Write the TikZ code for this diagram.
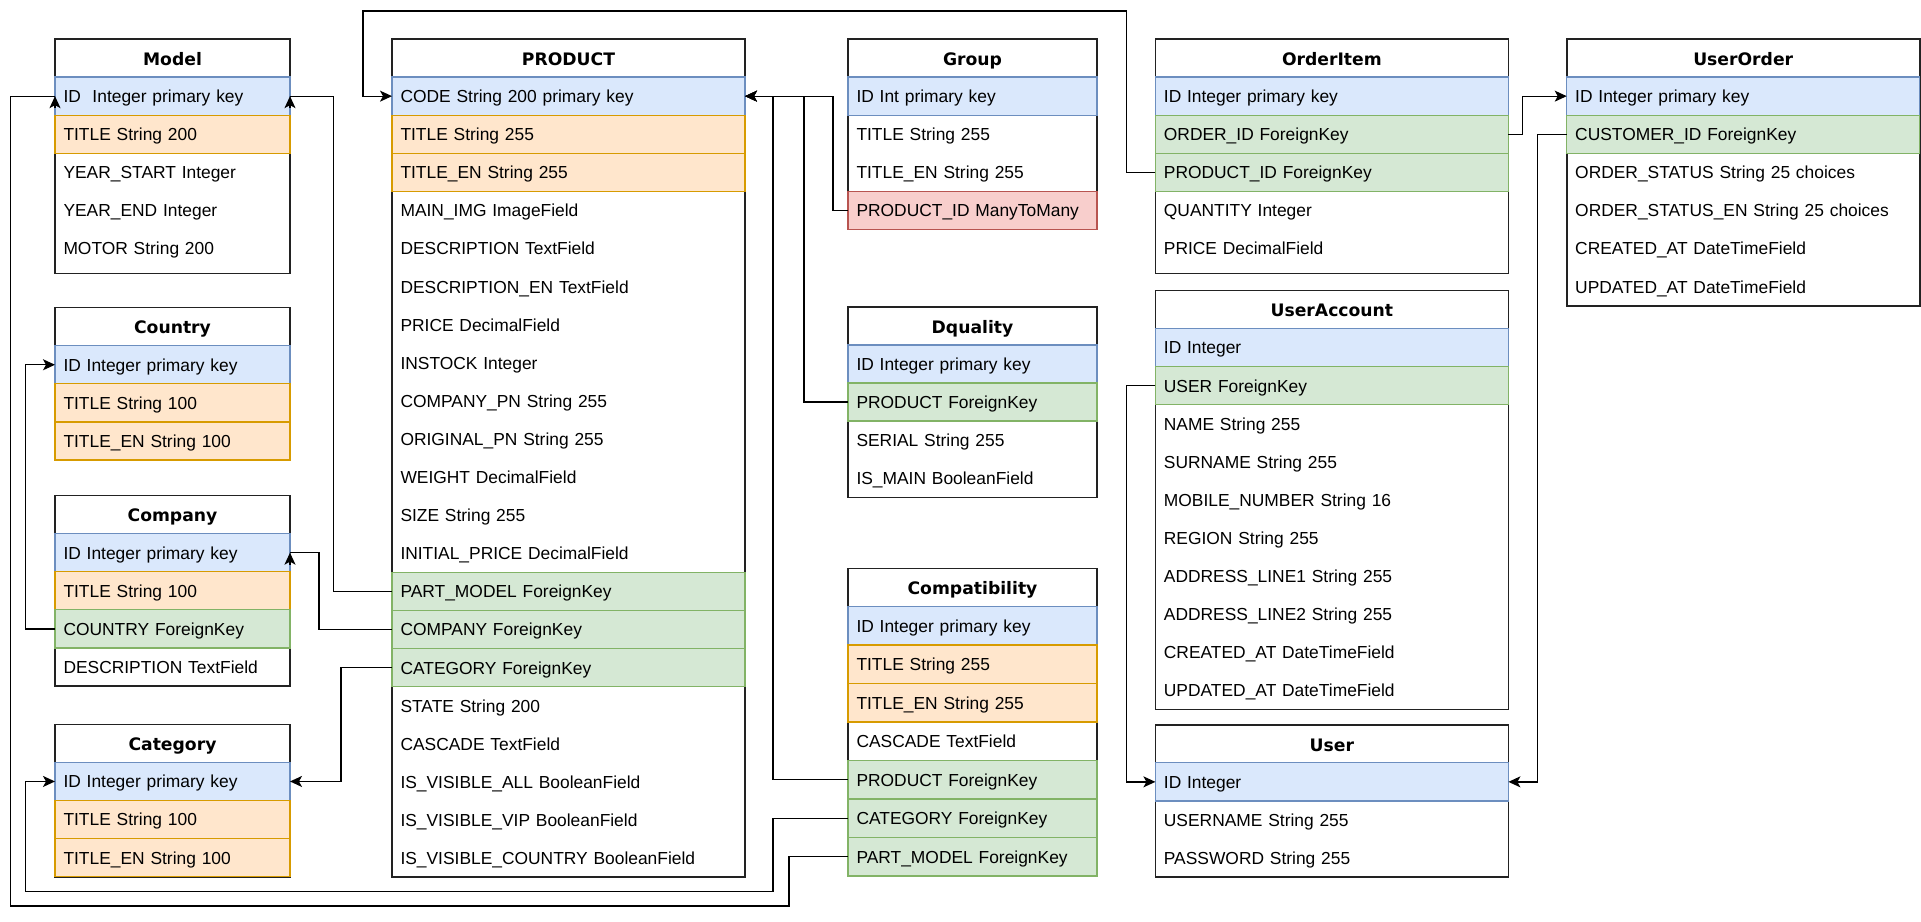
\documentclass[tikz,border=0pt]{standalone}
\usepackage{fontspec}
\setmainfont{Liberation Sans}
\newfontfamily\headfont{DejaVu Sans}
\usetikzlibrary{arrows.meta,positioning,backgrounds}
\definecolor{frameline}{HTML}{222222}
\definecolor{pkfill}{HTML}{DAE8FC}
\definecolor{pkline}{HTML}{6C8EBF}
\definecolor{fkfill}{HTML}{D5E8D4}
\definecolor{fkline}{HTML}{82B366}
\definecolor{txfill}{HTML}{FFE6CC}
\definecolor{txline}{HTML}{D79B00}
\definecolor{mtmfill}{HTML}{F8CECC}
\definecolor{mtmline}{HTML}{B85450}

\begin{document}
\begin{tikzpicture}[
  x=1pt, y=-1pt,
  tblhead/.style={
    draw=frameline,
    line width=1.6pt,
    fill=white,
    outer sep=0pt,
    inner xsep=8.5pt,
    minimum height=38.1pt,
    align=center,
    text height=14.5pt,
    text depth=0pt,
    font=\headfont\bfseries\fontsize{17.2}{20}\selectfont
  },
  fld/.style={
    outer sep=0pt,
    inner xsep=8.5pt,
    minimum height=38.1pt,
    align=left,
    text height=12.8pt,
    text depth=0pt,
    font=\fontsize{17.4}{20}\selectfont
  },
  pk/.style={fld, draw=pkline, fill=pkfill, line width=1.3pt},
  fk/.style={fld, draw=fkline, fill=fkfill, line width=1.3pt},
  txt/.style={fld, draw=txline, fill=txfill, line width=1.3pt},
  mtm/.style={fld, draw=mtmline, fill=mtmfill, line width=1.3pt},
  colA/.style={text width=218pt},
  colP/.style={text width=336pt},
  colG/.style={text width=232pt},
  tblframe/.style={draw=frameline, line width=1.6pt},
  link/.style={draw=black, line width=1.3pt},
  fkarrow/.style={link, -{Stealth[length=12pt, width=11pt, inset=3pt]}}
]
\path[use as bounding box] (0,0) rectangle (1921,921);

% Model
\node[tblhead, colA, anchor=north west] (model) at (55,39) {Model};
\node[pk, colA, below=0pt of model] (model-id) {ID\ \ Integer primary key};
\node[txt, colA, below=0pt of model-id] (model-title) {TITLE String 200};
\node[fld, colA, below=0pt of model-title] (model-ys) {YEAR\_START Integer};
\node[fld, colA, below=0pt of model-ys] (model-ye) {YEAR\_END Integer};
\node[fld, colA, below=0pt of model-ye] (model-motor) {MOTOR String 200};

% Country
\node[tblhead, colA, below=40pt of model-motor] (country) {Country};
\node[pk, colA, below=0pt of country] (country-id) {ID Integer primary key};
\node[txt, colA, below=0pt of country-id] (country-title) {TITLE String 100};
\node[txt, colA, below=0pt of country-title] (country-titleen) {TITLE\_EN String 100};

% Company
\node[tblhead, colA, below=35.5pt of country-titleen] (comp) {Company};
\node[pk, colA, below=0pt of comp] (comp-id) {ID Integer primary key};
\node[txt, colA, below=0pt of comp-id] (comp-title) {TITLE String 100};
\node[fk, colA, below=0pt of comp-title] (comp-country) {COUNTRY ForeignKey};
\node[fld, colA, below=0pt of comp-country] (comp-desc) {DESCRIPTION TextField};

% Category
\node[tblhead, colA, below=38.3pt of comp-desc] (cat) {Category};
\node[pk, colA, below=0pt of cat] (cat-id) {ID Integer primary key};
\node[txt, colA, below=0pt of cat-id] (cat-title) {TITLE String 100};
\node[txt, colA, below=0pt of cat-title] (cat-titleen) {TITLE\_EN String 100};

% PRODUCT
\node[tblhead, colP, right=102pt of model] (prod) {PRODUCT};
\node[pk, colP, below=0pt of prod] (prod-code) {CODE String 200 primary key};
\node[txt, colP, below=0pt of prod-code] (prod-title) {TITLE String 255};
\node[txt, colP, below=0pt of prod-title] (prod-titleen) {TITLE\_EN String 255};
\node[fld, colP, below=0pt of prod-titleen] (prod-img) {MAIN\_IMG ImageField};
\node[fld, colP, below=0pt of prod-img] (prod-desc) {DESCRIPTION TextField};
\node[fld, colP, below=0pt of prod-desc] (prod-descen) {DESCRIPTION\_EN TextField};
\node[fld, colP, below=0pt of prod-descen] (prod-price) {PRICE DecimalField};
\node[fld, colP, below=0pt of prod-price] (prod-stock) {INSTOCK Integer};
\node[fld, colP, below=0pt of prod-stock] (prod-cpn) {COMPANY\_PN String 255};
\node[fld, colP, below=0pt of prod-cpn] (prod-opn) {ORIGINAL\_PN String 255};
\node[fld, colP, below=0pt of prod-opn] (prod-weight) {WEIGHT DecimalField};
\node[fld, colP, below=0pt of prod-weight] (prod-size) {SIZE String 255};
\node[fld, colP, below=0pt of prod-size] (prod-iprice) {INITIAL\_PRICE DecimalField};
\node[fk, colP, below=0pt of prod-iprice] (prod-part) {PART\_MODEL ForeignKey};
\node[fk, colP, below=0pt of prod-part] (prod-comp) {COMPANY ForeignKey};
\node[fk, colP, below=0pt of prod-comp] (prod-cat) {CATEGORY ForeignKey};
\node[fld, colP, below=0pt of prod-cat] (prod-state) {STATE String 200};
\node[fld, colP, below=0pt of prod-state] (prod-cascade) {CASCADE TextField};
\node[fld, colP, below=0pt of prod-cascade] (prod-visall) {IS\_VISIBLE\_ALL BooleanField};
\node[fld, colP, below=0pt of prod-visall] (prod-visvip) {IS\_VISIBLE\_VIP BooleanField};
\node[fld, colP, below=0pt of prod-visvip] (prod-viscountry) {IS\_VISIBLE\_COUNTRY BooleanField};

% Group
\node[tblhead, colG, right=103pt of prod] (grp) {Group};
\node[pk, colG, below=0pt of grp] (grp-id) {ID Int primary key};
\node[fld, colG, below=0pt of grp-id] (grp-title) {TITLE String 255};
\node[fld, colG, below=0pt of grp-title] (grp-titleen) {TITLE\_EN String 255};
\node[mtm, colG, below=0pt of grp-titleen] (grp-prod) {PRODUCT\_ID ManyToMany};

% Dquality
\node[tblhead, colG, below=77.3pt of grp-prod] (dq) {Dquality};
\node[pk, colG, below=0pt of dq] (dq-id) {ID Integer primary key};
\node[fk, colG, below=0pt of dq-id] (dq-prod) {PRODUCT ForeignKey};
\node[fld, colG, below=0pt of dq-prod] (dq-serial) {SERIAL String 255};
\node[fld, colG, below=0pt of dq-serial] (dq-main) {IS\_MAIN BooleanField};

% Compatibility
\node[tblhead, colG, below=71pt of dq-main] (cp) {Compatibility};
\node[pk, colG, below=0pt of cp, minimum height=38.5pt] (cp-id) {ID Integer primary key};
\node[txt, colG, below=0pt of cp-id, minimum height=38.5pt] (cp-title) {TITLE String 255};
\node[txt, colG, below=0pt of cp-title, minimum height=38.5pt] (cp-titleen) {TITLE\_EN String 255};
\node[fld, colG, below=0pt of cp-titleen, minimum height=38.5pt] (cp-cascade) {CASCADE TextField};
\node[fk, colG, below=0pt of cp-cascade, minimum height=38.5pt] (cp-prod) {PRODUCT ForeignKey};
\node[fk, colG, below=0pt of cp-prod, minimum height=38.5pt] (cp-cat) {CATEGORY ForeignKey};
\node[fk, colG, below=0pt of cp-cat, minimum height=38.5pt] (cp-part) {PART\_MODEL ForeignKey};

% OrderItem
\node[tblhead, colP, right=58.4pt of grp] (oi) {OrderItem};
\node[pk, colP, below=0pt of oi] (oi-id) {ID Integer primary key};
\node[fk, colP, below=0pt of oi-id] (oi-order) {ORDER\_ID ForeignKey};
\node[fk, colP, below=0pt of oi-order] (oi-prod) {PRODUCT\_ID ForeignKey};
\node[fld, colP, below=0pt of oi-prod] (oi-qty) {QUANTITY Integer};
\node[fld, colP, below=0pt of oi-qty] (oi-price) {PRICE DecimalField};

% UserAccount
\node[tblhead, colP, below=22.8pt of oi-price] (ua) {UserAccount};
\node[pk, colP, below=0pt of ua] (ua-id) {ID Integer};
\node[fk, colP, below=0pt of ua-id] (ua-user) {USER ForeignKey};
\node[fld, colP, below=0pt of ua-user] (ua-name) {NAME String 255};
\node[fld, colP, below=0pt of ua-name] (ua-surname) {SURNAME String 255};
\node[fld, colP, below=0pt of ua-surname] (ua-mobile) {MOBILE\_NUMBER String 16};
\node[fld, colP, below=0pt of ua-mobile] (ua-region) {REGION String 255};
\node[fld, colP, below=0pt of ua-region] (ua-addr1) {ADDRESS\_LINE1 String 255};
\node[fld, colP, below=0pt of ua-addr1] (ua-addr2) {ADDRESS\_LINE2 String 255};
\node[fld, colP, below=0pt of ua-addr2] (ua-created) {CREATED\_AT DateTimeField};
\node[fld, colP, below=0pt of ua-created] (ua-updated) {UPDATED\_AT DateTimeField};

% User
\node[tblhead, colP, below=15.2pt of ua-updated] (usr) {User};
\node[pk, colP, below=0pt of usr] (usr-id) {ID Integer};
\node[fld, colP, below=0pt of usr-id] (usr-name) {USERNAME String 255};
\node[fld, colP, below=0pt of usr-name] (usr-pass) {PASSWORD String 255};

% UserOrder
\node[tblhead, colP, right=58.3pt of oi] (uo) {UserOrder};
\node[pk, colP, below=0pt of uo] (uo-id) {ID Integer primary key};
\node[fk, colP, below=0pt of uo-id] (uo-cust) {CUSTOMER\_ID ForeignKey};
\node[fld, colP, below=0pt of uo-cust] (uo-status) {ORDER\_STATUS String 25 choices};
\node[fld, colP, below=0pt of uo-status] (uo-statusen) {ORDER\_STATUS\_EN String 25 choices};
\node[fld, colP, below=0pt of uo-statusen] (uo-created) {CREATED\_AT DateTimeField};
\node[fld, colP, below=0pt of uo-created] (uo-updated) {UPDATED\_AT DateTimeField};

% table frames
\begin{scope}[on background layer]
\draw[tblframe] (model.north west) rectangle ([yshift=-6pt]model-motor.south east);
\draw[tblframe] (country.north west) rectangle (country-titleen.south east);
\draw[tblframe] (comp.north west) rectangle (comp-desc.south east);
\draw[tblframe] (cat.north west) rectangle (cat-titleen.south east);
\draw[tblframe] (prod.north west) rectangle (prod-viscountry.south east);
\draw[tblframe] (grp.north west) rectangle (grp-prod.south east);
\draw[tblframe] (dq.north west) rectangle (dq-main.south east);
\draw[tblframe] (cp.north west) rectangle (cp-part.south east);
\draw[tblframe] (oi.north west) rectangle ([yshift=-6pt]oi-price.south east);
\draw[tblframe] (ua.north west) rectangle (ua-updated.south east);
\draw[tblframe] (usr.north west) rectangle (usr-pass.south east);
\draw[tblframe] (uo.north west) rectangle (uo-updated.south east);
\end{scope}

% relations
\coordinate (loop-top) at (363,11);
\coordinate (rail-out) at (10.7,906);
\coordinate (rail-in) at (25.7,891.7);
\draw[fkarrow] (oi-prod.west) -- ++(-29,0) |- (loop-top) |- (prod-code.west);
\draw[fkarrow] (grp-prod.west) -- ++(-15,0) |- (prod-code.east);
\draw[fkarrow] (dq-prod.west) -- ++(-44,0) |- (prod-code.east);
\draw[fkarrow] (cp-prod.west) -- ++(-75,0) |- (prod-code.east);
\draw[fkarrow] (prod-part.west) -- ++(-58.5,0) |- (model-id.east)
  ([yshift=-12pt]model-id.east) -- (model-id.east);
\draw[fkarrow] (cp-part.west) -- ++(-59,0) |- (rail-out) |- (model-id.west)
  ([yshift=-12pt]model-id.west) -- (model-id.west);
\draw[fkarrow] (comp-country.west) -- ++(-29.3,0) |- (country-id.west);
\draw[fkarrow] (prod-comp.west) -- ++(-73,0) |- (comp-id.east)
  ([yshift=-12pt]comp-id.east) -- (comp-id.east);
\draw[fkarrow] (prod-cat.west) -- ++(-51,0) |- (cat-id.east);
\draw[fkarrow] (cp-cat.west) -- ++(-75,0) |- (rail-in) |- (cat-id.west);
\draw[fkarrow] (oi-order.east) -- ++(14,0) |- (uo-id.west);
\draw[fkarrow] (uo-cust.west) -- ++(-29,0) |- (usr-id.east);
\draw[fkarrow] (ua-user.west) -- ++(-28.8,0) |- (usr-id.west);
\end{tikzpicture}
\end{document}
